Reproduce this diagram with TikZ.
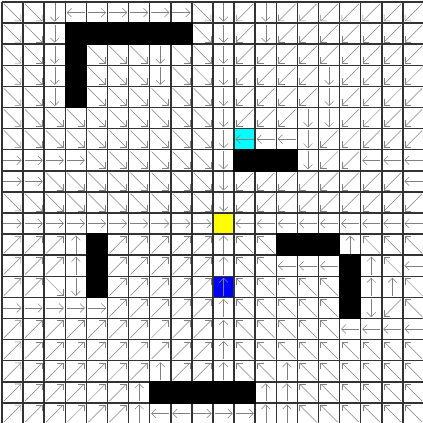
\documentclass[tikz,border=0pt]{standalone}
\usetikzlibrary{arrows.meta}

\definecolor{startcyan}{RGB}{0,255,255}
\definecolor{goalyellow}{RGB}{255,255,0}
\definecolor{agentblue}{RGB}{0,0,255}

% direction code -> angle of the arrow (none = no arrow)
\pgfkeys{/flowdir/.cd,
  E/.initial=0, NE/.initial=45, N/.initial=90, NW/.initial=135,
  W/.initial=180, SW/.initial=225, S/.initial=270, SE/.initial=315,
  X/.initial=none, Y/.initial=none, C/.initial=180, B/.initial=90}

\begin{document}
\begin{tikzpicture}[
  x=0.5cm, y=0.5cm,
  gridline/.style={line width=1pt, black!80},
  flowarrow/.style={line width=0.35pt, black!50, -{Straight Barb[angle=90:4.2pt]}},
  wallcell/.style={fill=black, draw=black, line width=1pt},
  startcell/.style={fill=startcyan},
  goalcell/.style={fill=goalyellow},
  agentcell/.style={fill=agentblue}
]

\def\noarrow{none}
\def\wallcode{X}

% one row per line, top row first
\def\field{
  {SE,SE,S,W,E,E,E,E,E,SE,S,SW,S,SW,SW,SW,SW,SW,SW,SW},
  {SE,SE,S,X,X,X,X,X,X,SE,S,SW,S,SW,SW,SW,SW,SW,SW,SW},
  {SE,SE,S,X,SE,SE,SE,S,SE,SE,S,SW,SW,SW,SW,SW,SW,SW,SW,SW},
  {SE,SE,S,X,SE,SE,SE,S,SE,SE,S,SW,SW,SW,SW,S,SW,SW,SW,SW},
  {SE,SE,S,X,SE,SE,SE,SE,SE,SE,S,SW,SW,SW,SW,S,SW,SW,SW,SW},
  {SE,SE,SE,SE,SE,SE,SE,SE,SE,SE,S,SW,SW,SW,S,S,SW,SW,SW,SW},
  {SE,SE,SE,SE,SE,SE,SE,SE,SE,SE,S,C,W,W,S,SW,SW,SW,SW,SW},
  {E,E,E,E,SE,SE,SE,SE,SE,SE,S,X,X,X,S,SW,SW,W,W,W},
  {E,E,SE,SE,SE,SE,SE,SE,SE,SE,S,SW,SW,SW,SW,SW,SW,SW,SW,W},
  {SE,SE,SE,SE,SE,SE,SE,SE,SE,SE,S,SW,SW,SW,SW,SW,SW,SW,SW,SW},
  {E,E,E,E,E,E,E,E,E,E,Y,W,W,W,W,W,W,W,W,W},
  {NE,NE,NE,N,X,NE,NE,NE,NE,NE,N,NW,NW,X,X,X,N,NW,NW,NW},
  {NE,NE,NE,N,X,NE,NE,NE,NE,NE,N,NW,NW,W,W,W,X,N,NW,W},
  {NE,NE,SE,S,X,NE,NE,NE,NE,NE,B,NW,NW,NW,NW,NW,X,N,N,NW},
  {E,E,E,E,E,NE,NE,NE,NE,NE,N,NW,NW,NW,NW,NW,X,S,SW,NW},
  {NE,NE,NE,NE,NE,NE,NE,NE,NE,NE,N,NW,NW,NW,NW,NW,W,W,W,W},
  {NE,NE,NE,NE,NE,NE,NE,NE,NE,NE,N,NW,NW,NW,NW,NW,NW,NW,NW,NW},
  {NE,NE,NE,NE,NE,NE,NE,N,NE,NE,N,NW,NW,N,NW,NW,NW,NW,NW,NW},
  {NE,NE,NE,NE,NE,NE,N,X,X,X,X,X,N,N,NW,NW,NW,NW,NW,NW},
  {NE,NE,NE,NE,NE,NE,N,W,W,E,E,E,N,N,NW,NW,NW,NW,NW,NW}}

\useasboundingbox (-0.095,0.05) rectangle (19.95,20.095);

% ------------------------
% Coloured cells
% ------------------------
\coordinate (start) at (11,13);
\coordinate (goal)  at (10,9);
\coordinate (agent) at (10,6);
\fill[startcell] (start) rectangle ++(1,1);
\fill[goalcell]  (goal)  rectangle ++(1,1);
\fill[agentcell] (agent) rectangle ++(1,1);

% ------------------------
% Flow arrows
% ------------------------
\foreach \cells [count=\r from 0] in \field {
  \foreach \d [count=\c from 0] in \cells {
    \pgfkeysgetvalue{/flowdir/\d}{\ang}
    \ifx\ang\noarrow\else
      \pgfmathsetmacro{\len}{mod(\ang,90)==0 ? 0.43 : 0.58}
      \draw[flowarrow] (\c+0.5,19.5-\r) ++(\ang+180:\len) -- ++(\ang:2*\len);
    \fi
  }
}

% Grid
\draw[gridline] (0,0) grid[step=1] (20,20);

% Walls
\foreach \cells [count=\r from 0] in \field {
  \foreach \d [count=\c from 0] in \cells {
    \ifx\d\wallcode
      \filldraw[wallcell] (\c,19-\r) rectangle ++(1,1);
    \fi
  }
}

\end{tikzpicture}
\end{document}
